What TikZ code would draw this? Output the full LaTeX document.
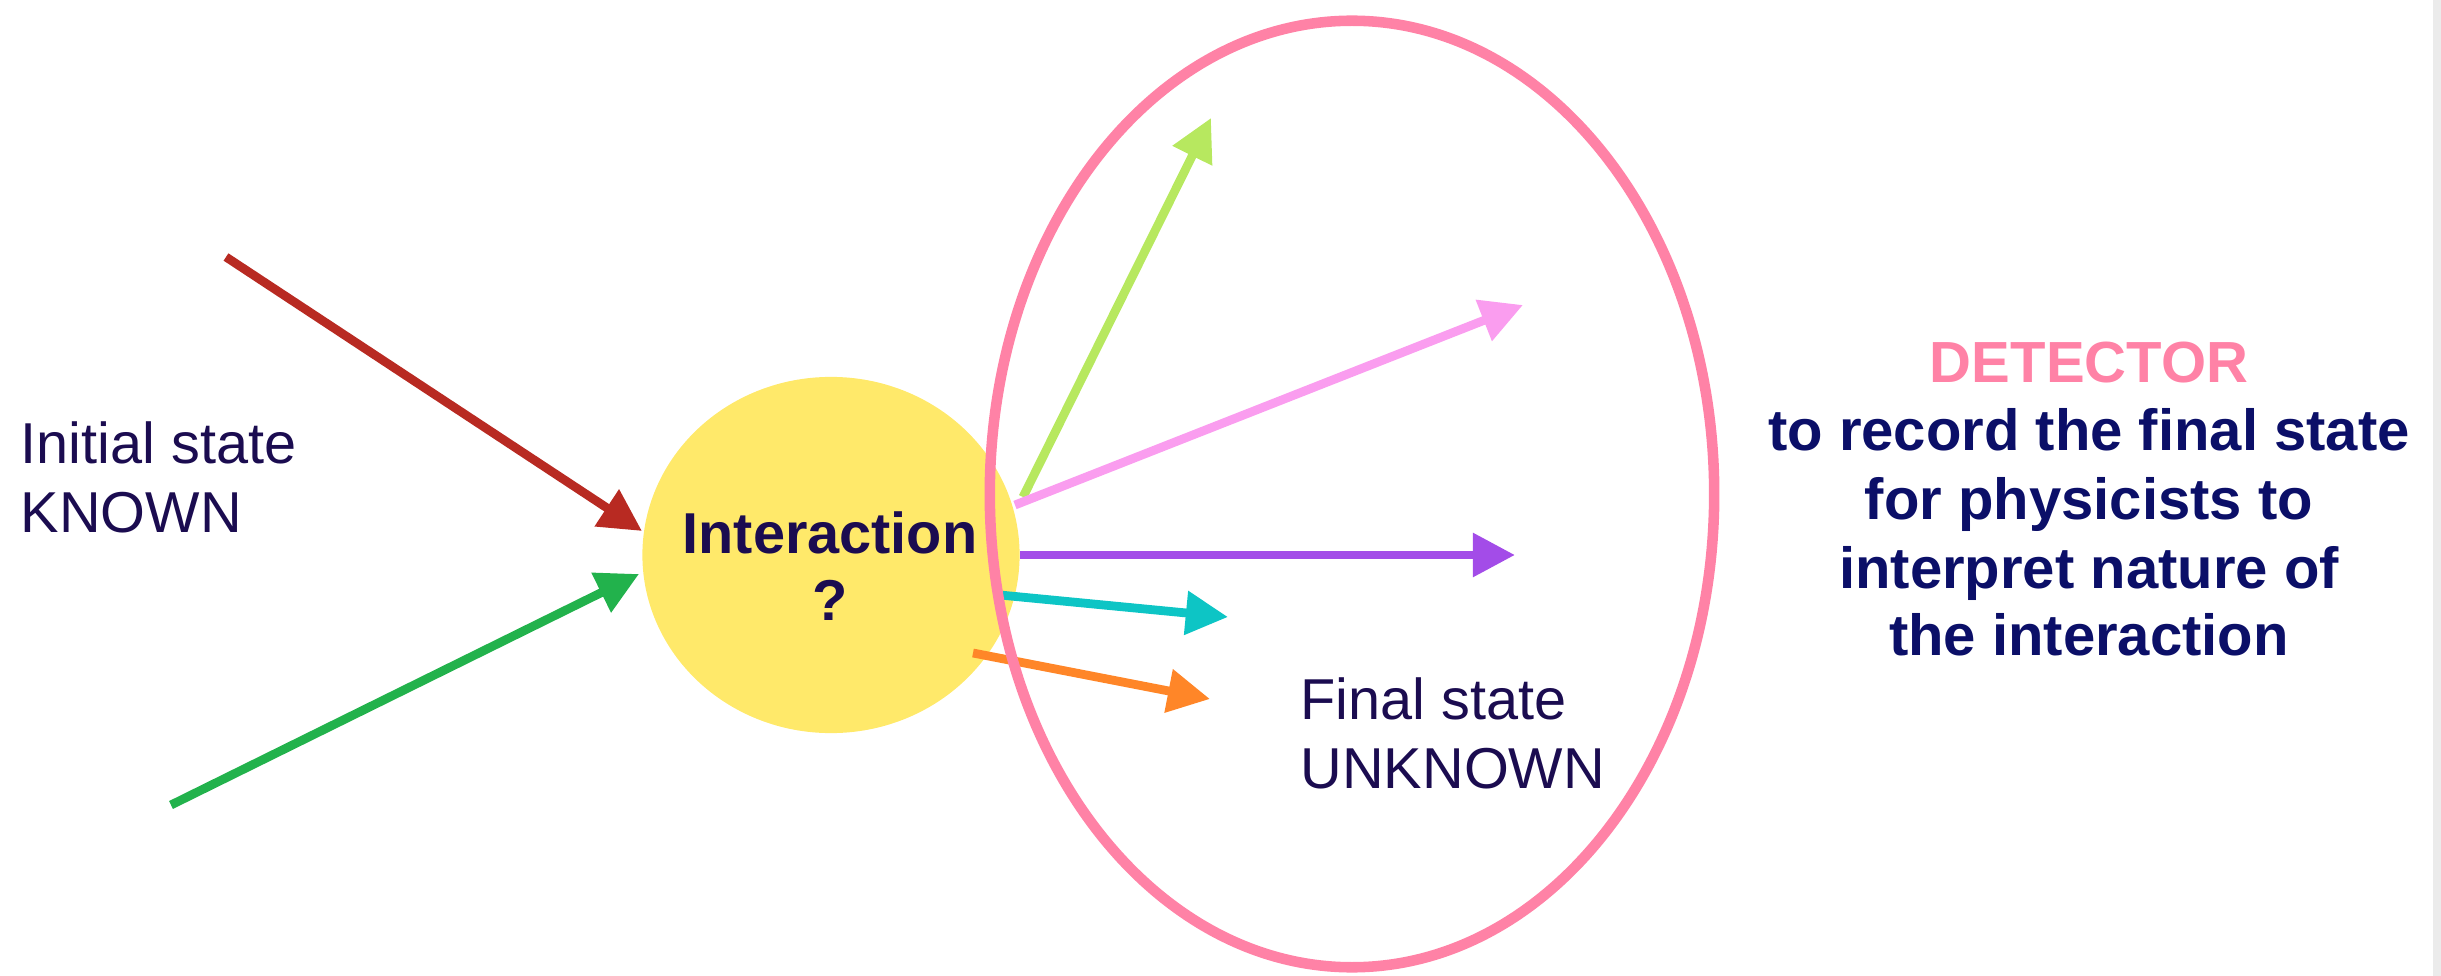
\documentclass[tikz,border=0pt]{standalone}
\usepackage{fontspec}
\setmainfont{Liberation Sans}
\usetikzlibrary{arrows.meta,shapes.geometric}
\definecolor{yel}{HTML}{FFE96A}
\definecolor{ringpink}{HTML}{FF82A6}
\definecolor{cred}{HTML}{B82A22}
\definecolor{cgreen}{HTML}{22B24C}
\definecolor{clime}{HTML}{B7E85F}
\definecolor{clpink}{HTML}{FA9DEF}
\definecolor{cpurple}{HTML}{A34CE8}
\definecolor{ccyan}{HTML}{0DC5C5}
\definecolor{corange}{HTML}{FF8628}
\definecolor{textdark}{HTML}{1B0C50}
\definecolor{navy}{HTML}{0B0F68}
\definecolor{stripgray}{HTML}{EBEBEB}
\tikzset{
  arr/.style={line width=2.5pt, -{Triangle[length=12pt,width=12pt]}},
  lbl/.style={inner sep=0pt, anchor=base west, font=\fontsize{16.4pt}{19.5pt}\selectfont, text=textdark},
  blbl/.style={inner sep=0pt, anchor=base, font=\fontsize{16.4pt}{19.5pt}\selectfont\bfseries, text=textdark},
  rlbl/.style={inner sep=0pt, anchor=base, font=\fontsize{16.5pt}{19.5pt}\selectfont\bfseries, text=navy},
}
\begin{document}
\begin{tikzpicture}[x=0.01cm,y=-0.01cm]
\useasboundingbox (0,0) rectangle (2441,976);
\fill[stripgray] (2433,0) rectangle (2441,976);
% interaction blob
\node[ellipse, fill=yel, minimum width=3.77cm, minimum height=3.56cm, inner sep=0pt] (inter) at (831,555) {};
% arrow ends
\coordinate (rs) at (226,257);  \coordinate (rt) at (642,531);
\coordinate (gs) at (171,805);  \coordinate (gt) at (639,574);
\coordinate (ls) at (1023,497); \coordinate (lt) at (1211,118);
\coordinate (ps) at (1015,505); \coordinate (pt) at (1523,305);
\coordinate (us) at (1020,555); \coordinate (ut) at (1515,555);
\coordinate (cs) at (1000,595); \coordinate (ct) at (1228,617);
\coordinate (os) at (973,653);  \coordinate (ot) at (1210,699);
\draw[arr, cred] (rs) -- (rt);
\draw[arr, cgreen] (gs) -- (gt);
\draw[arr, clime] (ls) -- (lt);
\draw[arr, clpink] (ps) -- (pt);
\draw[arr, cpurple] (us) -- (ut);
\draw[arr, ccyan] (cs) -- (ct);
\draw[arr, corange] (os) -- (ot);
% detector ring
\node[ellipse, draw=ringpink, line width=3pt, minimum width=7.24cm, minimum height=9.46cm, inner sep=0pt] (det) at (1352,494) {};
% texts
\node[blbl] (t1) at (830,553) {Interaction};
\node[blbl] (t2) at (830,620) {?};
\node[lbl] (i1) at (20,464) {Initial state};
\node[lbl] (i2) at (20,532) {KNOWN};
\node[lbl] (f1) at (1300,719) {Final state};
\node[lbl] (f2) at (1300,788) {UNKNOWN};
\node[rlbl, text=ringpink] (d0) at (2089,383) {DETECTOR};
\node[rlbl] (d1) at (2089,450) {to record the final state};
\node[rlbl] (d2) at (2089,519) {for physicists to};
\node[rlbl] (d3) at (2089,588) {interpret nature of};
\node[rlbl] (d4) at (2089,656) {the interaction};
\end{tikzpicture}
\end{document}
